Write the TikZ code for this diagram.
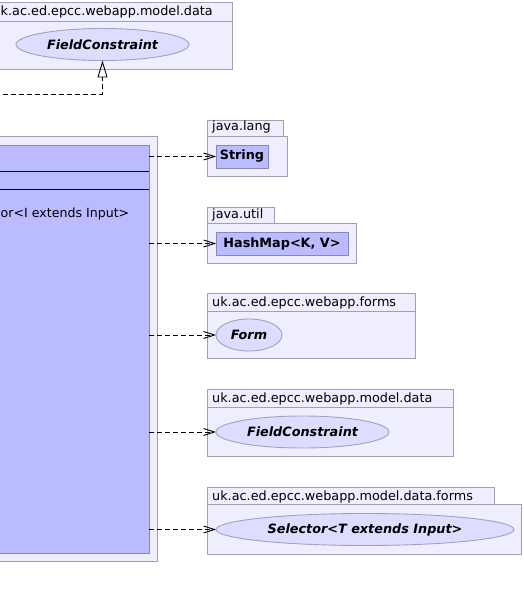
\documentclass[tikz,border=0pt]{standalone}
\usepackage{fontspec}
\setmainfont{DejaVu Sans}
\usepackage{tikz}
\usetikzlibrary{arrows.meta,shapes.geometric}
\definecolor{pkgfill}{HTML}{EEEEFF}
\definecolor{pkgline}{HTML}{A0A0B0}
\definecolor{clsfill}{HTML}{BBBBFF}
\definecolor{clsline}{HTML}{8888B8}
\definecolor{iffill}{HTML}{DDDDFF}
\definecolor{ifline}{HTML}{A0A0C0}
\tikzset{
  pkg/.style={draw=pkgline, fill=pkgfill, line width=0.9pt, rectangle, inner sep=0pt, outer sep=0pt, anchor=north west},
  pkgname/.style={anchor=base west, inner sep=0pt, font=\fontsize{12.8}{15}\selectfont},
  cls/.style={draw=clsline, fill=clsfill, line width=0.9pt, rectangle, inner sep=0pt, outer sep=0pt, font=\fontsize{12.8}{15}\selectfont\bfseries},
  iface/.style={draw=ifline, fill=iffill, line width=0.9pt, ellipse, inner sep=0pt, outer sep=0pt, font=\fontsize{12.8}{15}\selectfont\bfseries\itshape},
  dep/.style={dash pattern=on 5pt off 3pt, line width=0.9pt, -{Straight Barb[length=11pt,width=7pt]}},
  realize/.style={dash pattern=on 5pt off 3pt, line width=0.9pt, -{Triangle[open,length=17pt,width=10pt]}},
}

\begin{document}
\begin{tikzpicture}[x=1pt,y=-1pt]
\clip (0,0) rectangle (524,599);
\fill[white] (0,0) rectangle (524,599);
% package of the realized interface
\node[pkg, minimum width=245pt, minimum height=19pt] (topTab) at (-13,2) {};
\node[pkg, minimum width=245pt, minimum height=48pt] (topPkg) at (-13,21) {};
\node[pkgname] (topName) at (0.5,15.5) {k.ac.ed.epcc.webapp.model.data};
\node[iface, minimum width=173pt, minimum height=32pt] (fcTop) at (102.5,44.5) {FieldConstraint};

% main package and class
\node[pkg, minimum width=167pt, minimum height=425pt] (mainPkg) at (-10,136) {};
\node[cls, anchor=north west, minimum width=159pt, minimum height=408pt] (mainCls) at (-10,145) {};
\draw[line width=0.9pt] (mainCls.west |- 0,171) -- (mainCls.east |- 0,171);
\draw[line width=0.9pt] (mainCls.west |- 0,189) -- (mainCls.east |- 0,189);
\node[anchor=base west, inner sep=0pt, font=\fontsize{12.6}{15}\selectfont] (mainOp) at (0.5,217) {or<I extends Input>};

% java.lang
\node[pkg, minimum width=76pt, minimum height=16pt] (langTab) at (207,120) {};
\node[pkg, minimum width=80pt, minimum height=40pt] (langPkg) at (207,136) {};
\node[pkgname] (langName) at (212,131) {java.lang};
\node[cls, minimum width=52pt, minimum height=23pt] (strCls) at (242,156.5) {String};

% java.util
\node[pkg, minimum width=67pt, minimum height=16pt] (utilTab) at (207,207) {};
\node[pkg, minimum width=149pt, minimum height=40pt] (utilPkg) at (207,223) {};
\node[pkgname] (utilName) at (212,218) {java.util};
\node[cls, minimum width=132pt, minimum height=23pt] (mapCls) at (282,243.5) {HashMap<K, V>};

% forms
\node[pkg, minimum width=208pt, minimum height=18.5pt] (formsTab) at (207,293) {};
\node[pkg, minimum width=208pt, minimum height=47pt] (formsPkg) at (207,311.5) {};
\node[pkgname] (formsName) at (212,306) {uk.ac.ed.epcc.webapp.forms};
\node[iface, minimum width=66pt, minimum height=32pt] (formIf) at (249,335) {Form};

% model.data
\node[pkg, minimum width=246pt, minimum height=18pt] (dataTab) at (207,389.5) {};
\node[pkg, minimum width=246pt, minimum height=48.5pt] (dataPkg) at (207,407.5) {};
\node[pkgname] (dataName) at (212,402.5) {uk.ac.ed.epcc.webapp.model.data};
\node[iface, minimum width=173pt, minimum height=32pt] (fcIf) at (302.5,432) {FieldConstraint};

% model.data.forms
\node[pkg, minimum width=287pt, minimum height=17pt] (selTab) at (207,487) {};
\node[pkg, minimum width=314.5pt, minimum height=50pt] (selPkg) at (207,504) {};
\node[pkgname] (selName) at (212,500) {uk.ac.ed.epcc.webapp.model.data.forms};
\node[iface, minimum width=298pt, minimum height=32pt] (selIf) at (365,529.5) {Selector<T extends Input>};

% connectors
\coordinate (genFrom) at (-5,94);
\draw[realize] (genFrom) -| (fcTop.south);
\draw[dep] (mainCls.east |- strCls) -- (strCls.west);
\draw[dep] (mainCls.east |- mapCls) -- (mapCls.west);
\draw[dep] (mainCls.east |- formIf) -- (formIf.west);
\draw[dep] (mainCls.east |- fcIf) -- (fcIf.west);
\draw[dep] (mainCls.east |- selIf) -- (selIf.west);
\end{tikzpicture}
\end{document}
